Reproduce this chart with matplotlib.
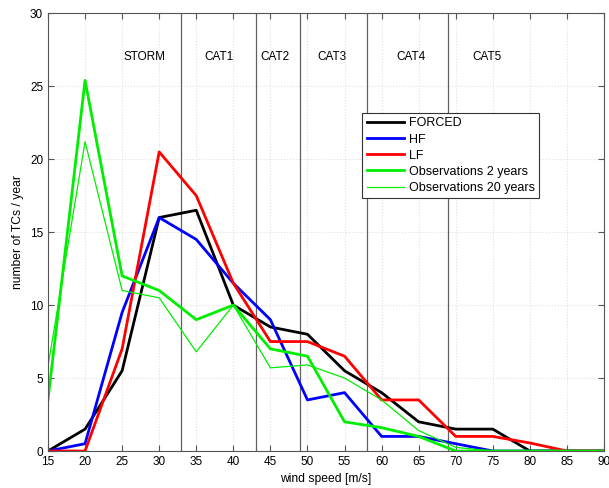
import matplotlib
matplotlib.use("Agg")
import matplotlib.pyplot as plt

plt.rcParams['font.family'] = ['Liberation Sans', 'DejaVu Sans']

wind = [15, 20, 25, 30, 35, 40, 45, 50, 55, 60, 65, 70, 75, 80, 85, 90]
forced = [0, 1.5, 5.5, 16, 16.5, 10, 8.5, 8, 5.5, 4, 2, 1.5, 1.5, 0, 0, 0]
hf = [0, 0.5, 9.5, 16, 14.5, 11.5, 9, 3.5, 4, 1, 1, 0.5, 0, 0, 0, 0]
lf = [0, 0, 7, 20.5, 17.5, 11.5, 7.5, 7.5, 6.5, 3.5, 3.5, 1, 1, 0.55, 0, 0]
obs2 = [3.5, 25.4, 12, 11, 9, 10, 7, 6.5, 2, 1.6, 1, 0, 0, 0, 0, 0]
obs20 = [5.8, 21.2, 11, 10.5, 6.8, 10, 5.7, 5.9, 5, 3.5, 1.4, 0.25, 0, 0, 0, 0]

cat_bounds = [33, 43, 49, 58, 69]
cat_names = ['STORM', 'CAT1', 'CAT2', 'CAT3', 'CAT4', 'CAT5']
cat_pos = [28, 38, 45.6, 53.3, 64, 74.2]

fig = plt.figure(figsize=(6.09, 4.88), dpi=100)
ax = fig.add_axes([0.0788, 0.0758, 0.913, 0.897])

ax.grid(True, color='#e0e0e0', linestyle=':', linewidth=0.8)
for b in cat_bounds:
    ax.axvline(b, color='#606060', linewidth=0.9)
for name, x in zip(cat_names, cat_pos):
    ax.text(x, 27, name, ha='center', va='center', fontsize=8.5)

ax.plot(wind, forced, color='black', lw=2, label='FORCED')
ax.plot(wind, hf, color='blue', lw=2, label='HF')
ax.plot(wind, lf, color='red', lw=2, label='LF')
ax.plot(wind, obs2, color='#00ee00', lw=2, label='Observations 2 years')
ax.plot(wind, obs20, color='#00ee00', lw=0.9, label='Observations 20 years')

ax.set_xlim(15, 90)
ax.set_ylim(0, 30)
ax.set_xticks(range(15, 91, 5))
ax.set_yticks(range(0, 31, 5))
ax.tick_params(direction='in', top=True, right=True, labelsize=8.5, length=4,
               color='#555555')
for s in ax.spines.values():
    s.set_color('#555555')
ax.set_xlabel('wind speed [m/s]', fontsize=8.7)
ax.set_ylabel('number of TCs / year', fontsize=8.7)

leg = ax.legend(loc='upper left', bbox_to_anchor=(0.565, 0.772), fontsize=9,
                fancybox=False, framealpha=1, borderpad=0.35, labelspacing=0.33,
                handlelength=3.0, handletextpad=0.4, borderaxespad=0)
leg.get_frame().set_edgecolor('#333333')
leg.get_frame().set_linewidth(0.8)

fig.savefig('out.png', dpi=100)
